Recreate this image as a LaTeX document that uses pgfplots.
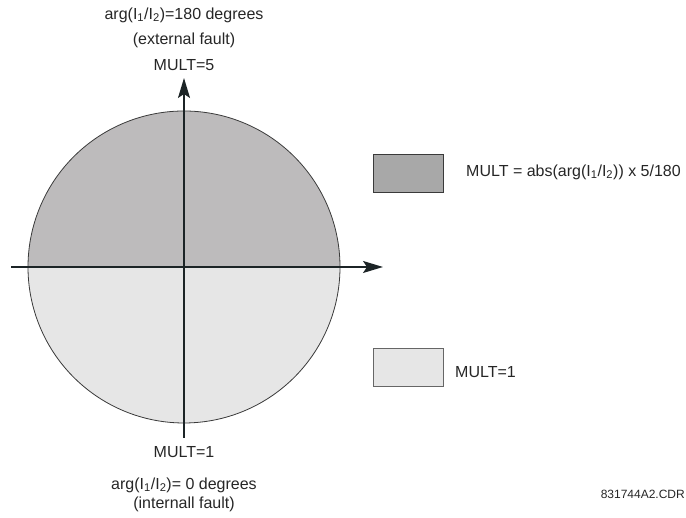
\documentclass[border=0pt]{standalone}
\usepackage{pgfplots}
\pgfplotsset{compat=1.18}
\usepackage{fontspec}
\setmainfont{Liberation Sans}
\usetikzlibrary{arrows.meta}
\definecolor{upperc}{HTML}{BDBBBC}
\definecolor{lowerc}{HTML}{E6E6E6}
\definecolor{legdark}{HTML}{A8A8A8}
\definecolor{axc}{HTML}{1C2426}
\definecolor{circc}{HTML}{3A3A3A}
\newcommand{\ratio}{I\textsubscript{1}/I\textsubscript{2}}
\tikzset{lab/.style={font=\fontsize{16}{19}\selectfont, text=black!85}}
\begin{document}
\begin{tikzpicture}
\begin{axis}[name=ax,
  width=686pt, height=518pt, scale only axis, hide axis, clip=false,
  xmin=0, xmax=686, ymin=-518, ymax=0]
% upper half (dark)
\addplot[fill=upperc, draw=none, domain=0:180, samples=181, variable=\t]
  ({184+156*cos(\t)}, {-267+156*sin(\t)}) -- cycle;
% lower half (light)
\addplot[fill=lowerc, draw=none, domain=180:360, samples=181, variable=\t]
  ({184+156*cos(\t)}, {-267+156*sin(\t)}) -- cycle;
% circle outline
\addplot[draw=circc, line width=0.8pt, domain=0:360, samples=361, variable=\t]
  ({184+156*cos(\t)}, {-267+156*sin(\t)});
% axes
\draw[axc, line width=1.7pt, -{Stealth[length=20pt, width=12pt, inset=4pt]}]
  (axis cs:11,-267) -- (axis cs:383,-267);
\draw[axc, line width=1.7pt, -{Stealth[length=20pt, width=12pt, inset=4pt]}]
  (axis cs:184,-438) -- (axis cs:184,-78);
% legend swatches
\draw[fill=legdark, draw=circc, line width=0.8pt] (axis cs:373,-154) rectangle (axis cs:443,-192);
\draw[fill=lowerc, draw=gray!80!black, line width=0.8pt] (axis cs:373,-348) rectangle (axis cs:443,-386);
% texts
\node[lab] at (axis cs:184,-15) {arg(\ratio)=180 degrees};
\node[lab] at (axis cs:184,-40) {(external fault)};
\node[lab] at (axis cs:184,-65) {MULT=5};
\node[lab] at (axis cs:184,-452) {MULT=1};
\node[lab] at (axis cs:184,-485) {arg(\ratio)= 0 degrees};
\node[lab] at (axis cs:184,-504) {(internall fault)};
\node[lab, anchor=west, inner sep=0pt] at (axis cs:466,-172) {MULT = abs(arg(\ratio)) x 5/180};
\node[lab, anchor=west, inner sep=0pt] at (axis cs:455,-372) {MULT=1};
\node[font=\fontsize{12}{14}\selectfont, text=black!85, anchor=east, inner sep=0pt] at (axis cs:685,-494) {831744A2.CDR};
\end{axis}
\pgfresetboundingbox
\useasboundingbox (ax.south west) rectangle (ax.north east);
\end{tikzpicture}
\end{document}
